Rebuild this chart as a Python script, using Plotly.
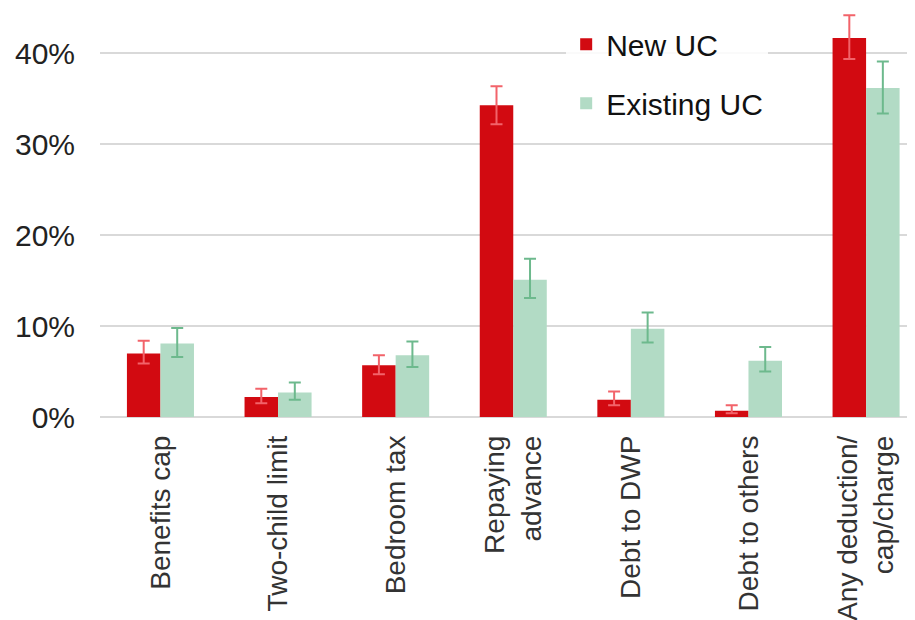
import plotly.graph_objects as go

categories = ["Benefits cap", "Two-child limit", "Bedroom tax", "Repaying<br>advance",
              "Debt to DWP", "Debt to others", "Any deduction/<br>cap/charge"]
new_uc = [7.0, 2.2, 5.7, 34.3, 1.9, 0.7, 41.7]
new_uc_hi = [8.4, 3.1, 6.8, 36.4, 2.8, 1.3, 44.2]
new_uc_lo = [5.9, 1.5, 4.7, 32.2, 1.3, 0.4, 39.4]
existing_uc = [8.1, 2.7, 6.8, 15.1, 9.7, 6.2, 36.2]
existing_uc_hi = [9.8, 3.8, 8.3, 17.4, 11.5, 7.7, 39.1]
existing_uc_lo = [6.6, 1.9, 5.5, 13.1, 8.2, 5.0, 33.4]
y_ticks = [0, 10, 20, 30, 40]
y_ticklabels = ["0%", "10%", "20%", "30%", "40%"]

RED = "#D20A11"
GREEN = "#B2DBC5"

fig = go.Figure()
fig.add_trace(go.Bar(
    name="New UC", x=categories, y=new_uc, marker=dict(color=RED, line=dict(width=0)),
    legendgroup="a",
    error_y=dict(type="data", symmetric=False,
                 array=[h - v for h, v in zip(new_uc_hi, new_uc)],
                 arrayminus=[v - l for v, l in zip(new_uc, new_uc_lo)],
                 color="#F2636A", thickness=2, width=6)))
fig.add_trace(go.Bar(
    name="Existing UC", x=categories, y=existing_uc, marker=dict(color=GREEN, line=dict(width=0)),
    legendgroup="b",
    error_y=dict(type="data", symmetric=False,
                 array=[h - v for h, v in zip(existing_uc_hi, existing_uc)],
                 arrayminus=[v - l for v, l in zip(existing_uc, existing_uc_lo)],
                 color="#6DB98D", thickness=2, width=6)))

fig.update_layout(
    width=907, height=612,
    margin=dict(l=92, r=0, t=0, b=203),
    paper_bgcolor="white", plot_bgcolor="white",
    barmode="group", bargap=0.43, bargroupgap=0,
    font=dict(family="Liberation Sans, Arial, sans-serif", color="#222"),
    showlegend=True,
    legend=dict(x=0.572, y=0.975, xanchor="left", yanchor="top",
                bgcolor="rgba(255,255,255,0.85)", font=dict(size=30, color="#111"),
                traceorder="grouped", tracegroupgap=17, itemwidth=30),
    xaxis=dict(tickangle=-90, tickfont=dict(size=28, color="#333"), showline=False,
               ticks="", showgrid=False, automargin=False, ticklabelstandoff=12,
               range=[-0.514, 6.416]),
    yaxis=dict(range=[0, 45], tickvals=y_ticks, ticktext=y_ticklabels,
               tickfont=dict(size=30, color="#222"), showgrid=True, gridcolor="#D9D9D9",
               gridwidth=2, zeroline=True, zerolinecolor="#D9D9D9", zerolinewidth=2,
               ticks="", ticklabelstandoff=24, automargin=False),
)

fig.write_html("out.html")
